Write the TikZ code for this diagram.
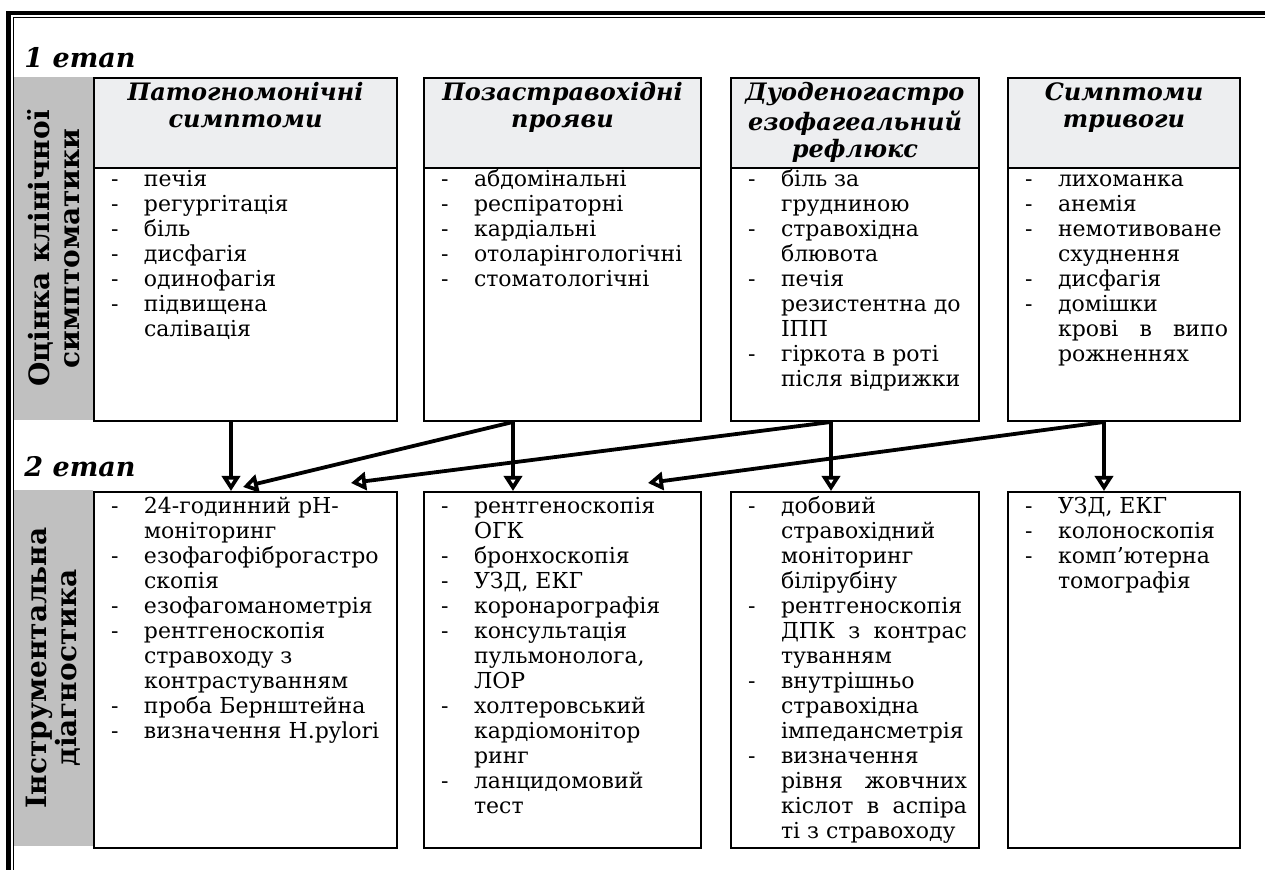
\documentclass[tikz,border=0pt]{standalone}
\usepackage{fontspec}
\setmainfont{DejaVu Serif}
\usetikzlibrary{arrows.meta}

\definecolor{sidegray}{HTML}{C0C0C0}
\definecolor{headgray}{HTML}{EDEEF0}

% one line of a list: with dash, continued, stretched
\newcommand{\li}[1]{\strut\makebox[16.5pt][l]{-}\mbox{#1}\par}
\newcommand{\cnt}[1]{\strut\hspace*{16.5pt}\mbox{#1}\par}
\newcommand{\jst}[1]{\strut\hspace*{16.5pt}#1\par}
\newcommand{\cellbox}[3]{\parbox[t][#2][t]{#1}{%
  \fontsize{11}{12.5}\selectfont
  \parindent=0pt\relax \parskip=0pt\relax \leftskip=8.5pt\relax
  \rightskip=6pt plus 1fil\relax \parfillskip=0pt plus 1fil\relax
  #3}}
\newcommand{\headbox}[2]{\parbox[t][41pt][t]{#1}{\centering
  \fontsize{12}{13.5}\selectfont\bfseries\itshape\strut #2}}

\begin{document}
\begin{tikzpicture}[x=0.5pt, y=-0.5pt]
  \tikzset{
    head/.style={draw, line width=1pt, fill=headgray, anchor=north west, inner xsep=0pt, inner ysep=2pt},
    body/.style={draw, line width=1pt, anchor=north west, inner xsep=0pt, inner ysep=.5pt},
    diag/.style={draw, line width=1pt, anchor=north west, inner xsep=0pt, inner ysep=2pt},
    side/.style={fill=sidegray, rotate=90, align=center, inner sep=0pt, minimum height=39.5pt,
      font=\fontsize{14}{15}\selectfont\bfseries},
    etap/.style={anchor=base west, inner sep=0pt, font=\fontsize{13.5}{15}\selectfont\bfseries\itshape},
    arr/.style={line width=1.9pt, -{Triangle[open, width=9pt, length=7.5pt, line width=2.6pt]}}
  }
  \useasboundingbox (0,0) rectangle (1265,870);

  % page frame
  \draw[line width=2.3pt] (8.5,870) -- (8.5,13) -- (1265,13);
  \draw[line width=0.7pt] (13.5,870) -- (13.5,17.5) -- (1265,17.5);

  \node[etap] (e1) at (24,68) {1 етап};
  \node[etap] (e2) at (24,477) {2 етап};

  \node[side, minimum width=171.5pt] (g1) at (53.5,248.5) {Оцінка клінічної\\симптоматики};
  \node[side, minimum width=178pt] (g2) at (53.5,668) {Інструментальна\\діагностика};

  % 1 etap
  \node[head] (h1) at (93,77) {\headbox{151.5pt}{Патогномонічні\\симптоми}};
  \node[head] (h2) at (423,77) {\headbox{138.5pt}{Позастравохідні\\прояви}};
  \node[head] (h3) at (730,77) {\headbox{124pt}{Дуоденогастро\\езофагеальний\\рефлюкс}};
  \node[head] (h4) at (1007,77) {\headbox{116pt}{Симптоми\\тривоги}};

  \node[body] (s1) at (93,167) {\cellbox{151.5pt}{125.5pt}{%
    \li{печія}\li{регургітація}\li{біль}\li{дисфагія}\li{одинофагія}
    \li{підвищена}\cnt{салівація}}};
  \node[body] (s2) at (423,167) {\cellbox{138.5pt}{125.5pt}{%
    \li{абдомінальні}\li{респіраторні}\li{кардіальні}\li{отоларінгологічні}
    \li{стоматологічні}}};
  \node[body] (s3) at (730,167) {\cellbox{124pt}{125.5pt}{%
    \li{біль за}\cnt{грудниною}\li{стравохідна}\cnt{блювота}\li{печія}
    \cnt{резистентна до}\cnt{ІПП}\li{гіркота в роті}\cnt{після відрижки}}};
  \node[body] (s4) at (1007,167) {\cellbox{116pt}{125.5pt}{%
    \li{лихоманка}\li{анемія}\li{немотивоване}\cnt{схуднення}\li{дисфагія}
    \li{домішки}\jst{крові\hfill в\hfill випо}\cnt{рожненнях}}};

  % 2 etap
  \node[diag] (d1) at (93,491) {\cellbox{151.5pt}{174pt}{%
    \li{24-годинний рН-}\cnt{моніторинг}\li{езофагофіброгастро}\cnt{скопія}
    \li{езофагоманометрія}\li{рентгеноскопія}\cnt{стравоходу з}
    \cnt{контрастуванням}\li{проба Бернштейна}\li{визначення H.pylori}}};
  \node[diag] (d2) at (423,491) {\cellbox{138.5pt}{174pt}{%
    \li{рентгеноскопія}\cnt{ОГК}\li{бронхоскопія}\li{УЗД, ЕКГ}
    \li{коронарографія}\li{консультація}\cnt{пульмонолога,}\cnt{ЛОР}
    \li{холтеровський}\cnt{кардіомонітор}\cnt{ринг}\li{ланцидомовий}\cnt{тест}}};
  \node[diag] (d3) at (730,491) {\cellbox{124pt}{174pt}{%
    \li{добовий}\cnt{стравохідний}\cnt{моніторинг}\cnt{білірубіну}
    \li{рентгеноскопія}\jst{ДПК\hfill з\hfill контрас}\cnt{туванням}
    \li{внутрішньо}\cnt{стравохідна}\cnt{імпедансметрія}\li{визначення}
    \jst{рівня\hfill жовчних}\jst{кіслот\hfill в\hfill аспіра}\cnt{ті з стравоходу}}};
  \node[diag] (d4) at (1007,491) {\cellbox{116pt}{174pt}{%
    \li{УЗД, ЕКГ}\li{колоноскопія}\li{комп’ютерна}\cnt{томографія}}};

  \coordinate (o1) at ([xshift=-7.25pt]s1.south);
  \coordinate (o2) at ([xshift=-24.75pt]s2.south);
  \coordinate (o3) at ([xshift=-12pt]s3.south);
  \coordinate (o4) at ([xshift=-10pt]s4.south);

  \draw[arr] (o1) -- (o1 |- d1.north);
  \draw[arr] (o2) -- (o2 |- d2.north);
  \draw[arr] (o3) -- (o3 |- d3.north);
  \draw[arr] (o4) -- (o4 |- d4.north);
  \draw[arr] (o2) -- ([xshift=-1.25pt,yshift=2pt]d1.north);
  \draw[arr] (o3) -- ([xshift=52.75pt,yshift=4pt]d1.north);
  \draw[arr] (o4) -- ([xshift=42.75pt,yshift=4pt]d2.north);
\end{tikzpicture}
\end{document}
